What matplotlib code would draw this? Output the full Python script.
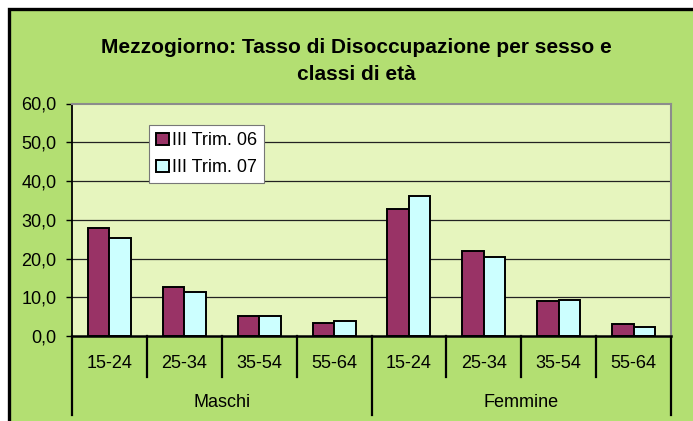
import matplotlib
matplotlib.use("Agg")
import matplotlib.pyplot as plt
from matplotlib.patches import Rectangle, Patch
import numpy as np

plt.rcParams['font.family'] = ['Liberation Sans', 'DejaVu Sans']

# dati
eta = ["15-24", "25-34", "35-54", "55-64", "15-24", "25-34", "35-54", "55-64"]
sessi = ["Maschi", "Femmine"]
serie = ["III Trim. 06", "III Trim. 07"]
trim06 = [28.0, 12.7, 5.2, 3.3, 32.8, 21.9, 9.0, 3.1]
trim07 = [25.2, 11.4, 5.2, 3.8, 36.1, 20.4, 9.3, 2.4]
yticks = [0, 10, 20, 30, 40, 50, 60]

VERDE = "#b3df72"
SFONDO = "#e6f5be"
BORDO = "#993366"
CIANO = "#ccffff"

W, H = 693, 421
fig = plt.figure(figsize=(W / 100, H / 100), dpi=100, facecolor="white")

# cornice esterna del grafico
fig.patches.append(Rectangle((8.5 / W, -0.05), 2, 1 - 9 / H + 0.05,
                             transform=fig.transFigure, facecolor=VERDE,
                             edgecolor="black", lw=2.4, zorder=-10))

ax = fig.add_axes([72 / W, 1 - 336 / H, 599 / W, 232.5 / H])
ax.set_zorder(2)
ax.set_facecolor(SFONDO)

x = np.arange(len(eta))
bw = 0.287
ax.bar(x - bw / 2, trim06, bw, color=BORDO, edgecolor="black", lw=1.4, zorder=3)
ax.bar(x + bw / 2, trim07, bw, color=CIANO, edgecolor="black", lw=1.4, zorder=3)

ax.set_xlim(-0.5, len(eta) - 0.5)
ax.set_ylim(0, 60)
ax.set_yticks(yticks)
ax.set_yticklabels([f"{v:.1f}".replace(".", ",") for v in yticks], fontsize=13)
ax.tick_params(axis="y", direction="out", length=4, width=1, pad=7)
ax.set_xticks([])
for v in yticks[1:-1]:
    ax.axhline(v, color="#222222", lw=0.9, zorder=1)

for s in ("top", "right"):
    ax.spines[s].set_color("#8c8c8c")
    ax.spines[s].set_linewidth(1.5)
ax.spines["left"].set_color("black")
ax.spines["left"].set_linewidth(1.3)
ax.spines["bottom"].set_color("black")
ax.spines["bottom"].set_linewidth(1.8)
ax.spines["bottom"].set_zorder(4)

# asse delle categorie su due livelli
tr = ax.get_xaxis_transform()
for i in range(len(eta) + 1):
    fondo = -0.340 if i % 4 == 0 else -0.176
    ax.plot([i - 0.5, i - 0.5], [0, fondo], color="black", lw=1.6,
            transform=tr, clip_on=False)
for i, lab in enumerate(eta):
    ax.text(i, -0.118, lab, transform=tr, ha="center", va="center", fontsize=13)
for j, lab in enumerate(sessi):
    ax.text(j * 4 + 1.5, -0.285, lab, transform=tr, ha="center", va="center",
            fontsize=13)

maniglie = [Patch(facecolor=BORDO, edgecolor="black", lw=1.4),
            Patch(facecolor=CIANO, edgecolor="black", lw=1.4)]
leg = ax.legend(maniglie, serie, loc="upper left",
                bbox_to_anchor=((149 - 72) / 599, (336 - 125) / 232.5),
                borderaxespad=0, fontsize=13, fancybox=False, framealpha=1,
                handlelength=0.7, handleheight=0.7, handletextpad=0.15,
                labelspacing=0.55, borderpad=0.4)
leg.get_frame().set_edgecolor("#777777")
leg.get_frame().set_linewidth(0.8)
leg.set_zorder(5)

fig.text(356 / W, 1 - 61 / H,
         "Mezzogiorno: Tasso di Disoccupazione per sesso e\nclassi di età",
         ha="center", va="center", fontsize=15, fontweight="bold",
         linespacing=1.5)

fig.savefig("out.png", dpi=100, facecolor=fig.get_facecolor())
